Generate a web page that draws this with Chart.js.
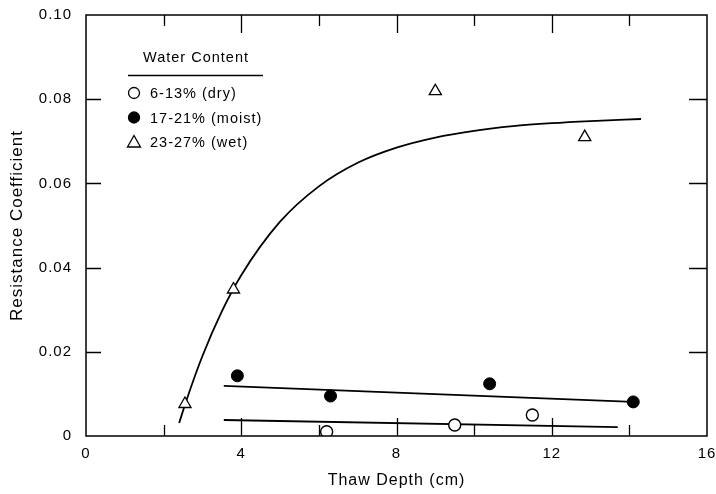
<!DOCTYPE html>
<html>
<head>
<meta charset="utf-8">
<script src="https://cdn.jsdelivr.net/npm/chart.js@4.4.1/dist/chart.umd.min.js"></script>
<style>
  html, body { margin: 0; padding: 0; background: #fff; }
  #wrap { width: 716px; height: 494px; }
</style>
</head>
<body>
<div id="wrap"><canvas id="myChart" width="716" height="494"></canvas></div>
<script>
// values
const dryX = [6.2, 9.5, 11.5];
const dryY = [0.001, 0.0026, 0.005];
const moistX = [3.9, 6.3, 10.4, 14.1];
const moistY = [0.0143, 0.0095, 0.0124, 0.0081];
const wetX = [2.55, 3.8, 9.0, 12.85];
const wetY = [0.0076, 0.0348, 0.0819, 0.071];

// fitted lines as they appear on the plot
const dryFitX = [3.55, 13.7];
const dryFitY = [0.0038, 0.0021];
const moistFitX = [3.55, 14.1];
const moistFitY = [0.0119, 0.0081];
const wetFitX = [2.4, 2.6, 3.0, 3.5, 4.0, 5.0, 6.0, 7.0, 8.0, 9.0, 10.0, 11.0, 12.0, 13.0, 14.3];
const wetFitY = [0.0031, 0.0088, 0.019, 0.0296, 0.0382, 0.0509, 0.0593, 0.0649, 0.0685, 0.0709, 0.0725, 0.0736, 0.0743, 0.0748, 0.0753];

const xTicks = [0, 2, 4, 6, 8, 10, 12, 14, 16];
const yTicks = [0, 0.02, 0.04, 0.06, 0.08, 0.10];
const legendTitle = 'Water Content';

function pts(xs, ys) {
  return xs.map((x, i) => ({ x: x, y: ys[i] }));
}

const FONT = '"Liberation Sans", Arial, Helvetica, sans-serif';

const lineStyle = {
  showLine: true, pointRadius: 0, borderColor: '#000', borderWidth: 1.8,
  fill: false, isFit: true
};

// the original lettering is a bit loosely spaced
const spacing = {
  id: 'spacing',
  beforeUpdate(chart) { chart.ctx.letterSpacing = '1px'; },
  beforeDraw(chart) { chart.ctx.letterSpacing = '1px'; }
};

// box + inward ticks + legend
const frame = {
  id: 'frame',
  afterDatasetsDraw(chart) {
    const ctx = chart.ctx;
    const a = chart.chartArea;
    const xs = chart.scales.x, ys = chart.scales.y;
    ctx.save();
    ctx.strokeStyle = '#000';
    ctx.lineWidth = 1.5;
    ctx.strokeRect(a.left, a.top, a.right - a.left, a.bottom - a.top);
    ctx.lineWidth = 1.3;
    ctx.beginPath();
    xTicks.forEach(v => {
      const px = Math.round(xs.getPixelForValue(v)) + 0.5;
      const len = v % 4 === 0 ? 18 : 11;
      if (v === 0 || v === 16) return;
      ctx.moveTo(px, a.bottom); ctx.lineTo(px, a.bottom - len);
      ctx.moveTo(px, a.top); ctx.lineTo(px, a.top + len);
    });
    yTicks.forEach(v => {
      const py = Math.round(ys.getPixelForValue(v)) + 0.5;
      if (v === 0 || v === 0.10) return;
      ctx.moveTo(a.left, py); ctx.lineTo(a.left + 15, py);
      ctx.moveTo(a.right, py); ctx.lineTo(a.right - 18, py);
    });
    ctx.stroke();

    // legend
    ctx.fillStyle = '#000';
    ctx.font = '14.5px ' + FONT;
    ctx.textAlign = 'center';
    ctx.textBaseline = 'middle';
    ctx.fillText(legendTitle, 196, 58);
    ctx.lineWidth = 1.5;
    ctx.beginPath();
    ctx.moveTo(128, 75.5); ctx.lineTo(263, 75.5);
    ctx.stroke();
    ctx.textAlign = 'left';
    const rows = chart.data.datasets.filter(d => !d.isFit);
    rows.forEach((d, i) => {
      const cy = 93 + i * 24.5;
      const cx = 134;
      ctx.lineWidth = 1.3;
      ctx.beginPath();
      if (d.pointStyle === 'triangle') {
        ctx.moveTo(cx, cy - 6.5); ctx.lineTo(cx + 6.5, cy + 5); ctx.lineTo(cx - 6.5, cy + 5); ctx.closePath();
      } else {
        ctx.arc(cx, cy, 5.5, 0, Math.PI * 2);
      }
      ctx.fillStyle = d.pointBackgroundColor;
      ctx.fill();
      ctx.stroke();
      ctx.fillStyle = '#000';
      ctx.fillText(d.label, 150, cy + 1);
    });
    ctx.restore();
  }
};

new Chart(document.getElementById('myChart'), {
  type: 'scatter',
  data: {
    datasets: [
      { label: '6-13% (dry)', data: pts(dryX, dryY), pointStyle: 'circle', pointRadius: 6,
        pointBackgroundColor: '#fff', pointBorderColor: '#000', pointBorderWidth: 1.4 },
      { label: '17-21% (moist)', data: pts(moistX, moistY), pointStyle: 'circle', pointRadius: 6,
        pointBackgroundColor: '#000', pointBorderColor: '#000', pointBorderWidth: 1 },
      { label: '23-27% (wet)', data: pts(wetX, wetY), pointStyle: 'triangle', pointRadius: 7,
        pointBackgroundColor: '#fff', pointBorderColor: '#000', pointBorderWidth: 1.3 },
      Object.assign({ label: 'dry fit', data: pts(dryFitX, dryFitY) }, lineStyle),
      Object.assign({ label: 'moist fit', data: pts(moistFitX, moistFitY) }, lineStyle),
      Object.assign({ label: 'wet fit', data: pts(wetFitX, wetFitY), cubicInterpolationMode: 'monotone' }, lineStyle)
    ]
  },
  options: {
    responsive: false,
    animation: false,
    layout: { padding: { top: 15, right: 9, left: 0, bottom: 0 } },
    plugins: { legend: { display: false }, tooltip: { enabled: false } },
    scales: {
      x: {
        type: 'linear', min: 0, max: 16,
        afterBuildTicks: s => { s.ticks = xTicks.map(v => ({ value: v })); },
        afterFit: s => { s.height = 58; s.paddingLeft = 0; s.paddingRight = 0; },
        grid: { display: false },
        border: { display: false },
        ticks: {
          color: '#000', font: { family: FONT, size: 15 }, padding: 1, maxRotation: 0,
          autoSkip: false,
          callback: v => (v % 4 === 0 ? String(v) : '')
        },
        title: { display: true, text: 'Thaw Depth (cm)', color: '#000',
          font: { family: FONT, size: 16 }, padding: { top: 4, bottom: 4 } }
      },
      y: {
        type: 'linear', min: 0, max: 0.10,
        afterBuildTicks: s => { s.ticks = yTicks.map(v => ({ value: v })); },
        afterFit: s => { s.width = 86; s.paddingTop = 0; s.paddingBottom = 0; },
        grid: { display: false },
        border: { display: false },
        ticks: {
          color: '#000', font: { family: FONT, size: 15 }, padding: 6,
          callback: v => (v === 0 ? '0' : v.toFixed(2))
        },
        title: { display: true, text: 'Resistance Coefficient', color: '#000',
          font: { family: FONT, size: 17 }, padding: { top: 7, bottom: 4 } }
      }
    }
  },
  plugins: [spacing, frame]
});
</script>
</body>
</html>
